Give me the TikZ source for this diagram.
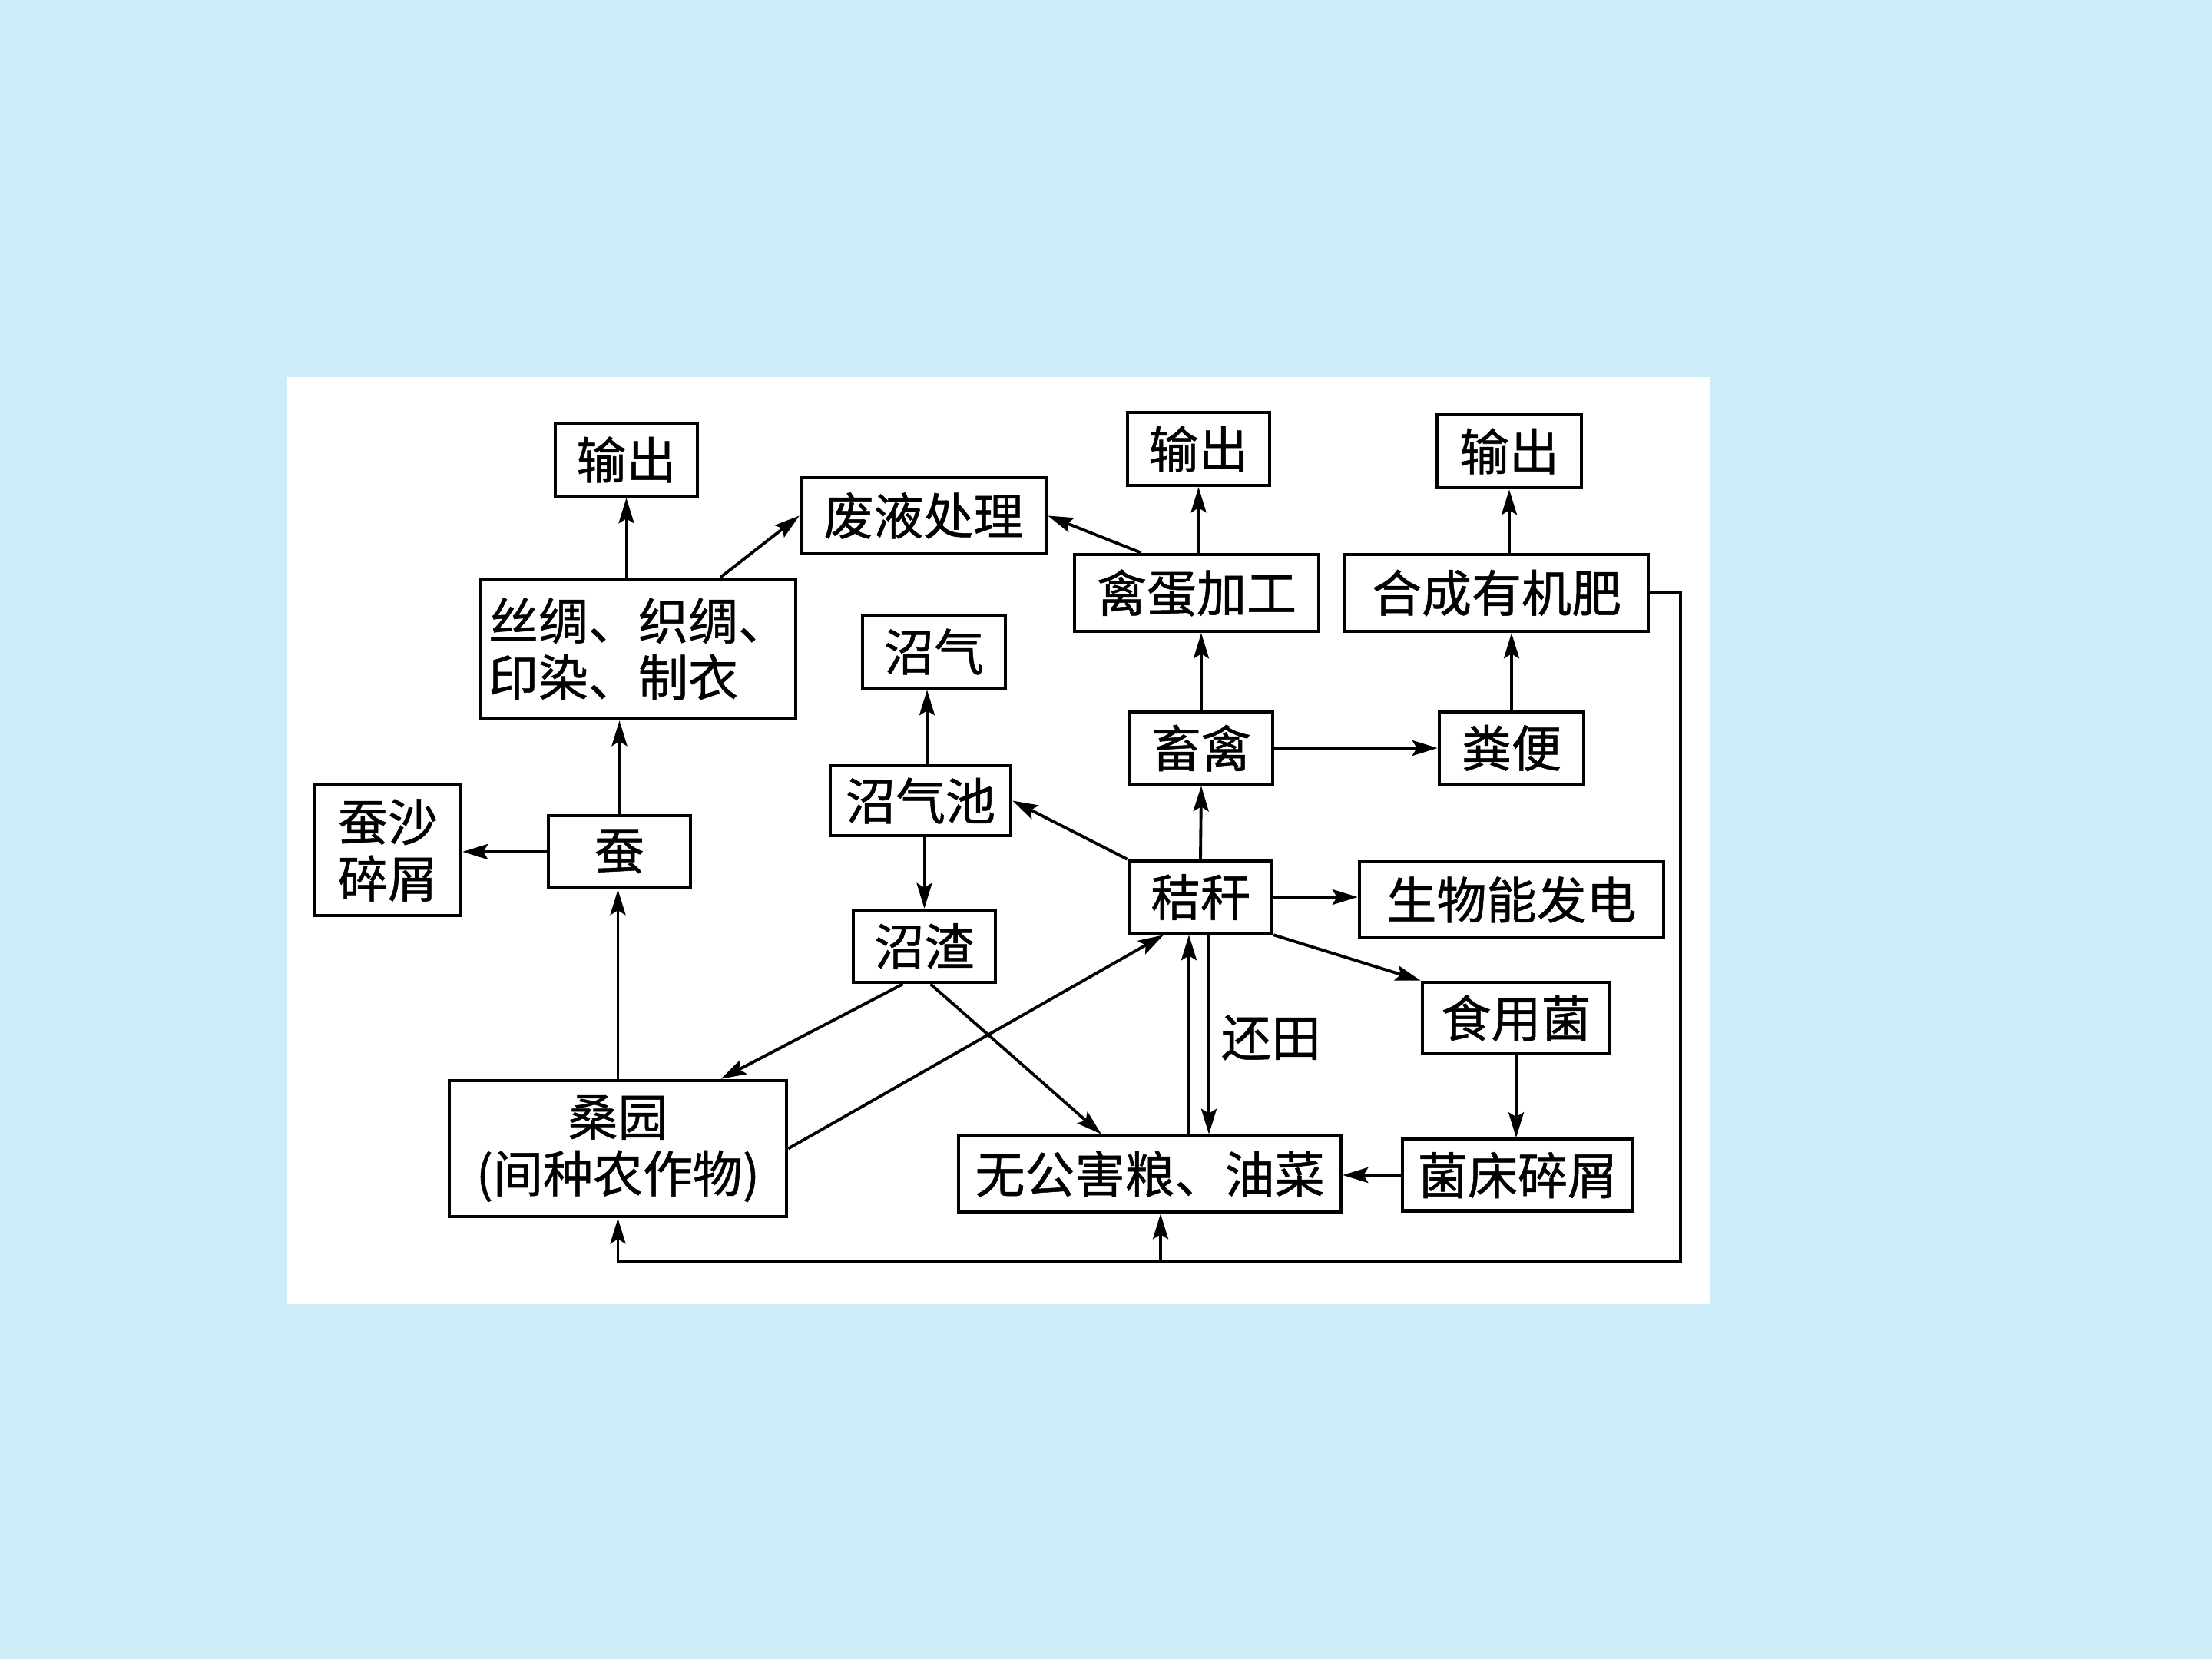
\documentclass[tikz,border=0pt]{standalone}
\usepackage{fontspec}
\setmainfont{Noto Sans CJK SC}[FakeBold=0.8]
\usetikzlibrary{arrows.meta, positioning}
\definecolor{pagebg}{RGB}{206,235,248}
\tikzset{
  box/.style={draw, line width=1.3pt, fill=white, inner sep=0pt, align=center,
    font=\fontsize{18.5}{21}\selectfont},
  flow/.style={->, line width=1.1pt}
}

\begin{document}
\begin{tikzpicture}[>={Stealth[length=3.3mm,width=2mm,inset=0.6mm]}]
  \fill[pagebg] (0,0) rectangle (28.8,-21.6);
  \fill[white] (3.74,-4.91) rectangle (22.26,-16.98);
  % left part
  \node[box, minimum width=1.85cm, minimum height=0.95cm] (out1) at (8.155,-5.985) {输出};
  \node[box, minimum width=3.19cm, minimum height=0.99cm] (waste) at (12.025,-6.715) {废液处理};
  \node[box, minimum width=4.10cm, minimum height=1.82cm, align=left] (silk) at (8.31,-8.45) {丝绸、织绸、\\印染、制衣};
  \node[box, minimum width=1.86cm, minimum height=0.95cm] (biogas) at (12.16,-8.485) {沼气};
  \node[box, minimum width=2.35cm, minimum height=0.91cm] (digester) at (11.985,-10.425) {沼气池};
  \node[box, minimum width=1.90cm, minimum height=1.70cm] (silkwaste) at (5.05,-11.07) {蚕沙\\碎屑};
  \node[box, minimum width=1.85cm, minimum height=0.94cm] (silkworm) at (8.065,-11.09) {蚕};
  \node[box, minimum width=1.85cm, minimum height=0.94cm] (residue) at (12.035,-12.32) {沼渣};
  \node[box, minimum width=4.39cm, minimum height=1.77cm] (mulberry) at (8.045,-14.955) {桑园\\(间种农作物)};
  \node[box, minimum width=4.98cm, minimum height=0.99cm] (crop) at (14.97,-15.285) {无公害粮、油菜};
  % right part
  \node[box, minimum width=1.85cm, minimum height=0.95cm] (out2) at (15.605,-5.845) {输出};
  \node[box, minimum width=1.88cm, minimum height=0.95cm] (out3) at (19.65,-5.875) {输出};
  \node[box, minimum width=3.18cm, minimum height=1.00cm] (egg) at (15.58,-7.72) {禽蛋加工};
  \node[box, minimum width=3.95cm, minimum height=1.00cm] (fert) at (19.485,-7.72) {合成有机肥};
  \node[box, minimum width=1.86cm, minimum height=0.94cm] (live) at (15.64,-9.74) {畜禽};
  \node[box, minimum width=1.88cm, minimum height=0.94cm] (manure) at (19.68,-9.74) {粪便};
  \node[box, minimum width=1.86cm, minimum height=0.94cm] (straw) at (15.63,-11.68) {秸秆};
  \node[box, minimum width=3.96cm, minimum height=0.99cm] (power) at (19.68,-11.715) {生物能发电};
  \node[box, minimum width=2.44cm, minimum height=0.93cm] (mush) at (19.74,-13.255) {食用菌};
  \node[box, minimum width=3.00cm, minimum height=0.93cm] (bed) at (19.76,-15.30) {菌床碎屑};
  \node[font=\fontsize{18.5}{21}\selectfont] (back) at (16.55,-13.51) {还田};
  %
  \draw[flow] (silkworm.north) -- (silkworm.north |- silk.south);
  \draw[flow] (out1.south |- silk.north) -- (out1.south);
  \draw[flow] ([xshift=1.07cm]silk.north) -- (waste.west);
  \draw[flow] (silkworm.west) -- (silkworm.west -| silkwaste.east);
  \draw[flow] (mulberry.north) -- (mulberry.north |- silkworm.south);
  \coordinate (gas) at ([xshift=0.085cm]digester.north);
  \draw[flow] (gas) -- (gas |- biogas.south);
  \draw[flow] (residue.north |- digester.south) -- (residue.north);
  \draw[flow] ([xshift=-0.28cm]residue.south) -- ([xshift=1.34cm]mulberry.north);
  \draw[flow] ([xshift=0.08cm]residue.south) -- ([xshift=-0.63cm]crop.north);
  \draw[flow] (mulberry.east) -- ([xshift=-0.48cm]straw.south);
  \draw[flow] (straw.north west) -- (digester.east);
  \draw[flow] (straw.north) -- (live.south);
  \draw[flow] (live.north) -- (live.north |- egg.south);
  \draw[flow] (out2.south |- egg.north) -- (out2.south);
  \draw[flow] ([xshift=0.89cm]egg.north west) -- (waste.east);
  \draw[flow] (live.east) -- (live.east -| manure.west);
  \draw[flow] (manure.north) -- (manure.north |- fert.south);
  \draw[flow] (out3.south |- fert.north) -- (out3.south);
  \draw[flow] (straw.east) -- (straw.east -| power.west);
  \draw[flow] (straw.south east) -- (mush.north west);
  \draw[flow] (mush.south) -- (mush.south |- bed.north);
  \draw[flow] (bed.west) -- (bed.west -| crop.east);
  % straw <-> crop
  \coordinate (up) at ([xshift=-0.15cm]straw.south);
  \coordinate (down) at ([xshift=0.11cm]straw.south);
  \draw[flow] (up |- crop.north) -- (up);
  \draw[flow] (down) -- (down |- crop.north);
  % fertiliser loop
  \coordinate (corner) at (21.88,-16.43);
  \coordinate (tap) at (15.11,-16.43);
  \draw[flow] (fert.east) -- (fert.east -| corner) -- (corner) -- (corner -| mulberry.south) -- (mulberry.south);
  \draw[flow] (tap) -- (tap |- crop.south);
\end{tikzpicture}
\end{document}
